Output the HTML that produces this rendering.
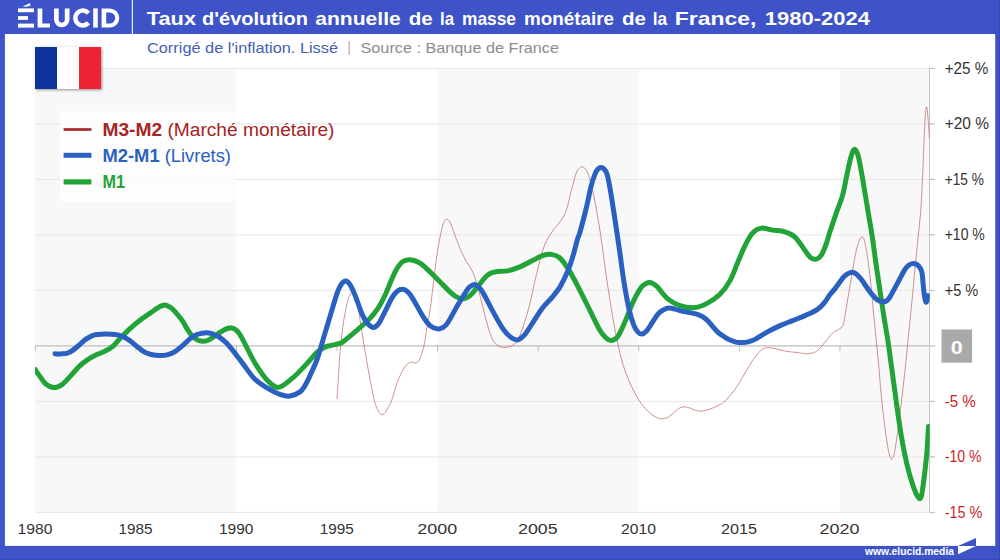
<!DOCTYPE html>
<html><head><meta charset="utf-8"><title>Elucid</title><style>html,body{margin:0;padding:0;background:#fff;}body{width:1000px;height:560px;overflow:hidden;font-family:"Liberation Sans",sans-serif;}svg{display:block;}text{font-family:"Liberation Sans",sans-serif;}</style></head><body>
<svg width="1000" height="560" viewBox="0 0 1000 560">
<defs><filter id="sh" x="-20%" y="-20%" width="150%" height="150%"><feGaussianBlur in="SourceAlpha" stdDeviation="1.4"/><feOffset dx="1.3" dy="1.3"/><feComponentTransfer><feFuncA type="linear" slope="0.42"/></feComponentTransfer><feMerge><feMergeNode/><feMergeNode in="SourceGraphic"/></feMerge></filter><clipPath id="cp"><rect x="35" y="60" width="894.8" height="460"/></clipPath></defs>
<rect x="0" y="0" width="1000" height="560" fill="#3d53c7"/>
<rect x="4.9" y="34" width="990.3" height="511.9" fill="#fff"/>
<rect x="35.30" y="68" width="201.15" height="444" fill="#f8f8f8"/>
<rect x="437.60" y="68" width="201.15" height="444" fill="#f8f8f8"/>
<rect x="839.90" y="68" width="89.71" height="444" fill="#f8f8f8"/>
<line x1="35" x2="935" y1="68.40" y2="68.40" stroke="#e7e7e7" stroke-width="1"/>
<line x1="35" x2="935" y1="123.90" y2="123.90" stroke="#e7e7e7" stroke-width="1"/>
<line x1="35" x2="935" y1="179.40" y2="179.40" stroke="#e7e7e7" stroke-width="1"/>
<line x1="35" x2="935" y1="234.90" y2="234.90" stroke="#e7e7e7" stroke-width="1"/>
<line x1="35" x2="935" y1="290.40" y2="290.40" stroke="#e7e7e7" stroke-width="1"/>
<line x1="35" x2="935" y1="401.40" y2="401.40" stroke="#e7e7e7" stroke-width="1"/>
<line x1="35" x2="935" y1="456.90" y2="456.90" stroke="#e7e7e7" stroke-width="1"/>
<line x1="35" x2="935" y1="512.40" y2="512.40" stroke="#e7e7e7" stroke-width="1"/>
<line x1="35" x2="935" y1="345.9" y2="345.9" stroke="#bdbdbd" stroke-width="1.2"/>
<line x1="35.30" x2="35.30" y1="345.9" y2="351.4" stroke="#bdbdbd" stroke-width="1"/>
<line x1="135.88" x2="135.88" y1="345.9" y2="351.4" stroke="#bdbdbd" stroke-width="1"/>
<line x1="236.45" x2="236.45" y1="345.9" y2="351.4" stroke="#bdbdbd" stroke-width="1"/>
<line x1="337.02" x2="337.02" y1="345.9" y2="351.4" stroke="#bdbdbd" stroke-width="1"/>
<line x1="437.60" x2="437.60" y1="345.9" y2="351.4" stroke="#bdbdbd" stroke-width="1"/>
<line x1="538.17" x2="538.17" y1="345.9" y2="351.4" stroke="#bdbdbd" stroke-width="1"/>
<line x1="638.75" x2="638.75" y1="345.9" y2="351.4" stroke="#bdbdbd" stroke-width="1"/>
<line x1="739.32" x2="739.32" y1="345.9" y2="351.4" stroke="#bdbdbd" stroke-width="1"/>
<line x1="839.90" x2="839.90" y1="345.9" y2="351.4" stroke="#bdbdbd" stroke-width="1"/>
<line x1="929.5" x2="929.5" y1="68" y2="512" stroke="#c6c6c6" stroke-width="1"/>
<line x1="929.5" x2="935" y1="68.40" y2="68.40" stroke="#bcbcbc" stroke-width="1"/>
<line x1="929.5" x2="935" y1="123.90" y2="123.90" stroke="#bcbcbc" stroke-width="1"/>
<line x1="929.5" x2="935" y1="179.40" y2="179.40" stroke="#bcbcbc" stroke-width="1"/>
<line x1="929.5" x2="935" y1="234.90" y2="234.90" stroke="#bcbcbc" stroke-width="1"/>
<line x1="929.5" x2="935" y1="290.40" y2="290.40" stroke="#bcbcbc" stroke-width="1"/>
<line x1="929.5" x2="935" y1="401.40" y2="401.40" stroke="#bcbcbc" stroke-width="1"/>
<line x1="929.5" x2="935" y1="456.90" y2="456.90" stroke="#bcbcbc" stroke-width="1"/>
<line x1="929.5" x2="935" y1="512.40" y2="512.40" stroke="#bcbcbc" stroke-width="1"/>
<rect x="60" y="111" width="176.2" height="91" fill="#fff" fill-opacity="0.75"/>
<path d="M337.00,398.60C337.20,395.60 337.70,388.18 338.20,380.60C338.70,373.02 339.07,363.10 340.00,353.10C340.93,343.10 342.29,329.85 343.75,320.60C345.21,311.35 347.29,302.27 348.75,297.60C350.21,292.93 351.46,292.93 352.50,292.60C353.54,292.27 354.17,293.77 355.00,295.60C355.83,297.43 356.25,296.93 357.50,303.60C358.75,310.27 360.83,325.27 362.50,335.60C364.17,345.93 365.62,355.18 367.50,365.60C369.38,376.02 372.33,391.38 373.75,398.10C375.17,404.82 375.29,403.88 376.00,405.90C376.71,407.92 377.33,408.97 378.00,410.20C378.67,411.43 379.33,412.55 380.00,413.30C380.67,414.05 381.33,414.60 382.00,414.70C382.67,414.80 383.33,414.48 384.00,413.90C384.67,413.32 385.33,412.28 386.00,411.20C386.67,410.12 387.10,409.07 388.00,407.40C388.90,405.73 389.88,405.28 391.40,401.20C392.92,397.12 395.18,388.10 397.10,382.90C399.02,377.70 401.10,373.22 402.90,370.00C404.70,366.78 406.48,364.92 407.90,363.60C409.32,362.28 410.10,362.20 411.40,362.10C412.70,362.00 414.38,363.35 415.70,363.00C417.02,362.65 418.10,362.17 419.30,360.00C420.50,357.83 421.95,353.33 422.90,350.00C423.85,346.67 424.23,344.40 425.00,340.00C425.77,335.60 426.67,328.50 427.50,323.60C428.33,318.70 429.17,316.10 430.00,310.60C430.83,305.10 431.67,297.37 432.50,290.60C433.33,283.83 434.17,276.58 435.00,270.00C435.83,263.42 436.67,256.52 437.50,251.10C438.33,245.68 439.25,241.28 440.00,237.50C440.75,233.72 441.38,230.92 442.00,228.40C442.62,225.88 443.17,223.83 443.75,222.40C444.33,220.97 444.98,220.35 445.50,219.80C446.02,219.25 446.40,219.08 446.90,219.10C447.40,219.12 447.77,218.92 448.50,219.90C449.23,220.88 449.96,221.85 451.25,225.00C452.54,228.15 454.58,234.42 456.25,238.80C457.92,243.18 459.58,247.55 461.25,251.30C462.92,255.05 464.62,258.42 466.25,261.30C467.88,264.18 469.54,265.80 471.00,268.60C472.46,271.40 473.50,273.60 475.00,278.10C476.50,282.60 478.33,289.35 480.00,295.60C481.67,301.85 483.33,309.35 485.00,315.60C486.67,321.85 488.33,328.52 490.00,333.10C491.67,337.68 492.92,340.73 495.00,343.10C497.08,345.48 499.58,346.93 502.50,347.35C505.42,347.77 509.79,347.14 512.50,345.60C515.21,344.06 516.67,342.27 518.75,338.10C520.83,333.93 523.12,326.43 525.00,320.60C526.88,314.77 528.33,309.77 530.00,303.10C531.67,296.43 533.33,287.68 535.00,280.60C536.67,273.52 538.33,266.68 540.00,260.60C541.67,254.52 542.92,249.02 545.00,244.10C547.08,239.18 550.00,234.81 552.50,231.10C555.00,227.39 557.71,225.27 560.00,221.85C562.29,218.43 564.38,215.81 566.25,210.60C568.12,205.39 569.58,196.85 571.25,190.60C572.92,184.35 574.88,176.85 576.25,173.10C577.62,169.35 578.46,169.14 579.50,168.10C580.54,167.06 581.50,166.68 582.50,166.85C583.50,167.02 584.46,167.64 585.50,169.10C586.54,170.56 587.38,171.18 588.75,175.60C590.12,180.02 592.08,187.68 593.75,195.60C595.42,203.52 597.29,214.35 598.75,223.10C600.21,231.85 601.25,239.35 602.50,248.10C603.75,256.85 605.00,266.85 606.25,275.60C607.50,284.35 608.75,292.68 610.00,300.60C611.25,308.52 612.50,316.18 613.75,323.10C615.00,330.02 616.04,335.43 617.50,342.10C618.96,348.77 620.42,356.27 622.50,363.10C624.58,369.93 627.08,376.64 630.00,383.10C632.92,389.56 636.67,396.85 640.00,401.85C643.33,406.85 647.33,410.56 650.00,413.10C652.67,415.64 654.12,416.14 656.00,417.10C657.88,418.06 659.12,418.89 661.25,418.85C663.38,418.81 666.04,418.43 668.75,416.85C671.46,415.27 675.46,410.89 677.50,409.35C679.54,407.81 679.75,408.02 681.00,407.60C682.25,407.18 683.50,406.77 685.00,406.85C686.50,406.93 688.33,407.56 690.00,408.10C691.67,408.64 692.92,409.60 695.00,410.10C697.08,410.60 699.58,411.43 702.50,411.10C705.42,410.77 709.17,409.43 712.50,408.10C715.83,406.77 719.58,405.18 722.50,403.10C725.42,401.02 727.50,398.52 730.00,395.60C732.50,392.68 735.00,389.35 737.50,385.60C740.00,381.85 742.50,377.27 745.00,373.10C747.50,368.93 750.00,364.27 752.50,360.60C755.00,356.93 758.08,353.10 760.00,351.10C761.92,349.10 762.75,349.18 764.00,348.60C765.25,348.02 765.67,347.60 767.50,347.60C769.33,347.60 772.08,348.02 775.00,348.60C777.92,349.18 781.25,350.43 785.00,351.10C788.75,351.77 794.17,352.18 797.50,352.60C800.83,353.02 802.92,353.43 805.00,353.60C807.08,353.77 807.92,354.10 810.00,353.60C812.08,353.10 815.00,352.52 817.50,350.60C820.00,348.68 822.50,345.02 825.00,342.10C827.50,339.18 830.21,335.23 832.50,333.10C834.79,330.98 837.17,330.35 838.75,329.35C840.33,328.35 841.21,328.06 842.00,327.10C842.79,326.14 843.00,325.52 843.50,323.60C844.00,321.68 844.12,320.68 845.00,315.60C845.88,310.52 847.50,300.60 848.75,293.10C850.00,285.60 851.25,277.68 852.50,270.60C853.75,263.52 855.08,255.68 856.25,250.60C857.42,245.52 858.46,242.39 859.50,240.10C860.54,237.81 861.58,236.35 862.50,236.85C863.42,237.35 864.08,239.14 865.00,243.10C865.92,247.06 866.96,253.10 868.00,260.60C869.04,268.10 870.29,278.93 871.25,288.10C872.21,297.27 872.92,306.85 873.75,315.60C874.58,324.35 875.42,332.27 876.25,340.60C877.08,348.93 877.92,356.43 878.75,365.60C879.58,374.77 880.21,385.18 881.25,395.60C882.29,406.02 883.88,419.35 885.00,428.10C886.12,436.85 887.20,443.43 888.00,448.10C888.80,452.77 889.26,454.27 889.80,456.10C890.34,457.93 890.75,458.85 891.25,459.10C891.75,459.35 892.26,458.68 892.80,457.60C893.34,456.52 893.72,456.68 894.50,452.60C895.28,448.52 896.38,441.35 897.50,433.10C898.62,424.85 900.00,413.52 901.25,403.10C902.50,392.68 903.88,381.02 905.00,370.60C906.12,360.18 907.17,348.93 908.00,340.60C908.83,332.27 909.25,328.10 910.00,320.60C910.75,313.10 911.67,304.27 912.50,295.60C913.33,286.93 914.17,277.27 915.00,268.60C915.83,259.93 916.67,251.93 917.50,243.60C918.33,235.27 919.38,225.27 920.00,218.60C920.62,211.93 920.83,210.35 921.25,203.60C921.67,196.85 922.08,187.35 922.50,178.10C922.92,168.85 923.33,157.68 923.75,148.10C924.17,138.52 924.66,126.93 925.00,120.60C925.34,114.27 925.55,112.39 925.80,110.10C926.05,107.81 926.27,106.93 926.50,106.85C926.73,106.77 926.95,107.72 927.20,109.60C927.45,111.47 927.62,113.35 928.00,118.10C928.38,122.85 929.25,134.77 929.50,138.10" fill="none" stroke="#b04a42" stroke-width="0.6" clip-path="url(#cp)" stroke-linejoin="round" stroke-linecap="round"/>
<path d="M35.00,369.35C35.83,370.56 38.17,374.14 40.00,376.60C41.83,379.06 43.71,382.27 46.00,384.10C48.29,385.93 51.08,387.52 53.75,387.60C56.42,387.68 59.29,386.43 62.00,384.60C64.71,382.77 67.00,379.77 70.00,376.60C73.00,373.43 76.67,368.68 80.00,365.60C83.33,362.52 87.08,359.98 90.00,358.10C92.92,356.23 95.00,355.52 97.50,354.35C100.00,353.18 102.50,352.39 105.00,351.10C107.50,349.81 110.00,348.68 112.50,346.60C115.00,344.52 117.08,341.60 120.00,338.60C122.92,335.60 126.67,331.67 130.00,328.60C133.33,325.53 137.08,322.48 140.00,320.20C142.92,317.92 145.33,316.40 147.50,314.90C149.67,313.40 151.42,312.28 153.00,311.20C154.58,310.12 155.75,309.22 157.00,308.40C158.25,307.58 159.50,306.82 160.50,306.30C161.50,305.78 162.28,305.52 163.00,305.30C163.72,305.08 164.22,304.98 164.80,305.00C165.38,305.02 165.88,305.17 166.50,305.40C167.12,305.63 167.87,306.08 168.50,306.40C169.13,306.72 169.43,306.67 170.30,307.30C171.17,307.93 172.47,308.95 173.70,310.20C174.93,311.45 176.18,312.93 177.70,314.80C179.22,316.67 181.25,319.10 182.80,321.40C184.35,323.70 185.59,326.37 187.00,328.60C188.41,330.83 189.75,333.03 191.25,334.80C192.75,336.57 194.12,338.12 196.00,339.20C197.88,340.28 200.50,341.13 202.50,341.30C204.50,341.47 206.08,340.98 208.00,340.20C209.92,339.42 212.00,337.90 214.00,336.60C216.00,335.30 218.17,333.60 220.00,332.40C221.83,331.20 223.58,330.10 225.00,329.40C226.42,328.70 227.42,328.45 228.50,328.20C229.58,327.95 230.50,327.80 231.50,327.90C232.50,328.00 233.42,328.13 234.50,328.80C235.58,329.47 236.67,330.18 238.00,331.90C239.33,333.62 239.67,333.90 242.50,339.10C245.33,344.30 250.83,356.18 255.00,363.10C259.17,370.02 263.54,376.56 267.50,380.60C271.46,384.64 274.58,387.77 278.75,387.35C282.92,386.93 288.12,381.73 292.50,378.10C296.88,374.48 300.83,369.98 305.00,365.60C309.17,361.23 314.17,354.93 317.50,351.85C320.83,348.77 322.92,348.14 325.00,347.10C327.08,346.06 327.50,346.22 330.00,345.60C332.50,344.98 337.50,344.30 340.00,343.40C342.50,342.50 343.17,341.53 345.00,340.20C346.83,338.87 348.92,337.13 351.00,335.40C353.08,333.67 355.33,331.67 357.50,329.80C359.67,327.93 361.92,326.10 364.00,324.20C366.08,322.30 368.17,320.37 370.00,318.40C371.83,316.43 373.50,314.33 375.00,312.40C376.50,310.47 377.67,308.97 379.00,306.80C380.33,304.63 381.75,301.88 383.00,299.40C384.25,296.92 385.17,294.95 386.50,291.90C387.83,288.85 389.42,284.72 391.00,281.10C392.58,277.48 394.08,273.41 396.00,270.20C397.92,266.99 400.17,263.58 402.50,261.85C404.83,260.12 407.08,259.64 410.00,259.85C412.92,260.06 416.67,261.10 420.00,263.10C423.33,265.10 426.67,268.73 430.00,271.85C433.33,274.98 436.67,278.52 440.00,281.85C443.33,285.18 447.33,289.39 450.00,291.85C452.67,294.31 453.92,295.43 456.00,296.60C458.08,297.77 460.50,298.77 462.50,298.85C464.50,298.93 466.33,298.06 468.00,297.10C469.67,296.14 470.92,294.81 472.50,293.10C474.08,291.39 475.42,289.43 477.50,286.85C479.58,284.27 482.92,279.84 485.00,277.60C487.08,275.36 487.92,274.42 490.00,273.40C492.08,272.38 494.58,271.92 497.50,271.50C500.42,271.08 503.75,271.68 507.50,270.90C511.25,270.13 515.83,268.57 520.00,266.85C524.17,265.13 528.75,262.48 532.50,260.60C536.25,258.73 539.38,256.64 542.50,255.60C545.62,254.56 548.33,253.93 551.25,254.35C554.17,254.77 556.88,255.18 560.00,258.10C563.12,261.02 566.67,266.43 570.00,271.85C573.33,277.27 576.67,284.14 580.00,290.60C583.33,297.06 586.67,303.93 590.00,310.60C593.33,317.27 597.29,326.02 600.00,330.60C602.71,335.18 604.38,336.43 606.25,338.10C608.12,339.77 609.38,340.81 611.25,340.60C613.12,340.39 615.21,339.98 617.50,336.85C619.79,333.73 622.50,327.48 625.00,321.85C627.50,316.23 630.00,308.56 632.50,303.10C635.00,297.64 638.00,292.22 640.00,289.10C642.00,285.98 643.04,285.48 644.50,284.40C645.96,283.32 647.33,282.73 648.75,282.60C650.17,282.47 651.54,282.85 653.00,283.60C654.46,284.35 655.08,284.60 657.50,287.10C659.92,289.60 663.75,295.52 667.50,298.60C671.25,301.68 675.42,304.10 680.00,305.60C684.58,307.10 690.42,308.02 695.00,307.60C699.58,307.18 703.33,305.31 707.50,303.10C711.67,300.89 716.25,298.10 720.00,294.35C723.75,290.60 727.08,285.81 730.00,280.60C732.92,275.39 735.00,268.93 737.50,263.10C740.00,257.27 742.50,250.60 745.00,245.60C747.50,240.60 749.79,236.02 752.50,233.10C755.21,230.18 757.92,228.60 761.25,228.10C764.58,227.60 768.54,229.47 772.50,230.10C776.46,230.72 781.25,230.68 785.00,231.85C788.75,233.02 791.67,234.01 795.00,237.10C798.33,240.19 802.50,247.07 805.00,250.40C807.50,253.73 808.33,255.61 810.00,257.10C811.67,258.59 813.50,259.27 815.00,259.35C816.50,259.43 817.75,258.64 819.00,257.60C820.25,256.56 821.17,255.77 822.50,253.10C823.83,250.43 825.75,245.18 827.00,241.60C828.25,238.02 828.46,236.35 830.00,231.60C831.54,226.85 834.17,219.10 836.25,213.10C838.33,207.10 840.83,201.43 842.50,195.60C844.17,189.77 845.00,183.93 846.25,178.10C847.50,172.27 848.96,164.93 850.00,160.60C851.04,156.27 851.75,153.97 852.50,152.10C853.25,150.22 853.83,149.43 854.50,149.35C855.17,149.27 855.79,150.14 856.50,151.60C857.21,153.06 857.75,153.68 858.75,158.10C859.75,162.52 861.25,171.02 862.50,178.10C863.75,185.18 865.00,193.10 866.25,200.60C867.50,208.10 868.96,216.85 870.00,223.10C871.04,229.35 871.46,231.02 872.50,238.10C873.54,245.18 875.00,256.85 876.25,265.60C877.50,274.35 878.75,282.27 880.00,290.60C881.25,298.93 882.50,307.68 883.75,315.60C885.00,323.52 886.46,331.43 887.50,338.10C888.54,344.77 888.96,348.10 890.00,355.60C891.04,363.10 892.50,373.93 893.75,383.10C895.00,392.27 896.25,401.85 897.50,410.60C898.75,419.35 900.00,428.10 901.25,435.60C902.50,443.10 903.88,450.10 905.00,455.60C906.12,461.10 906.83,464.10 908.00,468.60C909.17,473.10 910.67,478.43 912.00,482.60C913.33,486.77 914.92,491.10 916.00,493.60C917.08,496.10 917.83,496.77 918.50,497.60C919.17,498.43 919.53,498.77 920.00,498.60C920.47,498.43 920.90,497.93 921.30,496.60C921.70,495.27 921.78,494.93 922.40,490.60C923.02,486.27 924.23,477.27 925.00,470.60C925.77,463.93 926.42,457.93 927.00,450.60C927.58,443.27 928.25,430.60 928.50,426.60" fill="none" stroke="#22a338" stroke-width="5" clip-path="url(#cp)" stroke-linejoin="round" stroke-linecap="round"/>
<path d="M55.00,353.85C56.00,353.86 58.92,354.03 61.00,353.90C63.08,353.78 65.50,353.73 67.50,353.10C69.50,352.47 70.92,351.56 73.00,350.10C75.08,348.64 77.83,346.18 80.00,344.35C82.17,342.52 83.92,340.56 86.00,339.10C88.08,337.64 90.50,336.37 92.50,335.60C94.50,334.83 95.92,334.75 98.00,334.50C100.08,334.25 102.83,334.15 105.00,334.10C107.17,334.05 108.92,334.07 111.00,334.20C113.08,334.33 115.33,334.43 117.50,334.90C119.67,335.37 121.92,336.02 124.00,337.00C126.08,337.98 126.92,338.50 130.00,340.80C133.08,343.10 139.00,348.52 142.50,350.80C146.00,353.08 148.08,353.70 151.00,354.50C153.92,355.30 157.17,355.58 160.00,355.60C162.83,355.62 165.50,355.27 168.00,354.60C170.50,353.93 172.67,353.02 175.00,351.60C177.33,350.18 179.50,348.23 182.00,346.10C184.50,343.97 187.50,340.72 190.00,338.80C192.50,336.88 195.00,335.53 197.00,334.60C199.00,333.67 200.42,333.52 202.00,333.20C203.58,332.88 205.00,332.67 206.50,332.70C208.00,332.73 209.42,332.95 211.00,333.40C212.58,333.85 214.50,334.70 216.00,335.40C217.50,336.10 218.33,336.40 220.00,337.60C221.67,338.80 223.92,340.52 226.00,342.60C228.08,344.68 229.75,346.68 232.50,350.10C235.25,353.52 238.75,358.23 242.50,363.10C246.25,367.98 250.83,375.18 255.00,379.35C259.17,383.52 263.33,385.60 267.50,388.10C271.67,390.60 276.25,393.02 280.00,394.35C283.75,395.68 286.67,396.52 290.00,396.10C293.33,395.68 297.50,393.60 300.00,391.85C302.50,390.10 303.33,388.31 305.00,385.60C306.67,382.89 307.92,380.18 310.00,375.60C312.08,371.02 315.00,365.18 317.50,358.10C320.00,351.02 322.50,341.43 325.00,333.10C327.50,324.77 330.42,314.93 332.50,308.10C334.58,301.27 336.00,296.10 337.50,292.10C339.00,288.10 340.13,285.93 341.50,284.10C342.87,282.27 344.28,281.02 345.70,281.10C347.12,281.18 348.45,282.27 350.00,284.60C351.55,286.93 352.92,290.02 355.00,295.10C357.08,300.18 360.33,310.30 362.50,315.10C364.67,319.90 366.20,321.83 368.00,323.90C369.80,325.97 371.55,327.50 373.30,327.50C375.05,327.50 376.88,325.88 378.50,323.90C380.12,321.92 380.67,320.11 383.00,315.60C385.33,311.09 390.08,300.93 392.50,296.85C394.92,292.77 395.83,292.35 397.50,291.10C399.17,289.85 400.83,289.27 402.50,289.35C404.17,289.43 405.83,290.14 407.50,291.60C409.17,293.06 410.00,294.10 412.50,298.10C415.00,302.10 419.58,311.02 422.50,315.60C425.42,320.18 427.50,323.39 430.00,325.60C432.50,327.81 435.42,328.52 437.50,328.85C439.58,329.18 440.83,328.56 442.50,327.60C444.17,326.64 445.00,326.77 447.50,323.10C450.00,319.43 454.17,311.23 457.50,305.60C460.83,299.98 465.25,292.60 467.50,289.35C469.75,286.10 469.83,286.89 471.00,286.10C472.17,285.31 473.33,284.52 474.50,284.60C475.67,284.68 476.67,285.39 478.00,286.60C479.33,287.81 480.08,287.85 482.50,291.85C484.92,295.85 489.17,304.56 492.50,310.60C495.83,316.64 499.58,323.77 502.50,328.10C505.42,332.43 507.50,334.64 510.00,336.60C512.50,338.56 515.00,340.23 517.50,339.85C520.00,339.48 522.50,337.14 525.00,334.35C527.50,331.56 529.58,327.48 532.50,323.10C535.42,318.73 539.17,312.48 542.50,308.10C545.83,303.73 549.58,300.39 552.50,296.85C555.42,293.31 557.50,291.02 560.00,286.85C562.50,282.68 565.42,276.73 567.50,271.85C569.58,266.98 570.83,263.06 572.50,257.60C574.17,252.14 576.25,243.35 577.50,239.10C578.75,234.85 578.54,237.27 580.00,232.10C581.46,226.93 584.38,215.85 586.25,208.10C588.12,200.35 589.79,191.27 591.25,185.60C592.71,179.93 593.88,176.85 595.00,174.10C596.12,171.35 596.96,170.18 598.00,169.10C599.04,168.02 600.17,167.52 601.25,167.60C602.33,167.68 603.46,168.27 604.50,169.60C605.54,170.93 606.38,171.27 607.50,175.60C608.62,179.93 609.79,186.85 611.25,195.60C612.71,204.35 614.79,218.43 616.25,228.10C617.71,237.77 618.75,244.85 620.00,253.60C621.25,262.35 622.29,271.52 623.75,280.60C625.21,289.68 627.08,300.68 628.75,308.10C630.42,315.52 632.21,321.10 633.75,325.10C635.29,329.10 636.62,330.60 638.00,332.10C639.38,333.60 640.67,334.18 642.00,334.10C643.33,334.02 644.67,332.93 646.00,331.60C647.33,330.27 648.00,329.02 650.00,326.10C652.00,323.18 655.67,316.85 658.00,314.10C660.33,311.35 662.21,310.60 664.00,309.60C665.79,308.60 666.92,308.18 668.75,308.10C670.58,308.02 672.71,308.56 675.00,309.10C677.29,309.64 680.00,310.77 682.50,311.35C685.00,311.93 687.50,312.10 690.00,312.60C692.50,313.10 695.42,313.68 697.50,314.35C699.58,315.02 700.83,315.56 702.50,316.60C704.17,317.64 705.00,318.06 707.50,320.60C710.00,323.14 714.75,329.18 717.50,331.85C720.25,334.52 721.92,335.23 724.00,336.60C726.08,337.98 728.00,339.18 730.00,340.10C732.00,341.02 733.92,341.68 736.00,342.10C738.08,342.52 740.33,342.68 742.50,342.60C744.67,342.52 746.92,342.14 749.00,341.60C751.08,341.06 751.92,340.98 755.00,339.35C758.08,337.73 763.33,334.14 767.50,331.85C771.67,329.56 775.83,327.48 780.00,325.60C784.17,323.73 788.33,322.27 792.50,320.60C796.67,318.93 800.83,317.48 805.00,315.60C809.17,313.73 814.17,311.64 817.50,309.35C820.83,307.06 822.92,304.31 825.00,301.85C827.08,299.39 828.33,296.81 830.00,294.60C831.67,292.39 832.71,291.56 835.00,288.60C837.29,285.64 841.58,279.35 843.75,276.85C845.92,274.35 846.54,274.35 848.00,273.60C849.46,272.85 851.00,272.18 852.50,272.35C854.00,272.52 855.54,273.43 857.00,274.60C858.46,275.77 859.08,276.48 861.25,279.35C863.42,282.23 867.29,288.39 870.00,291.85C872.71,295.31 875.33,298.43 877.50,300.10C879.67,301.77 881.42,301.77 883.00,301.85C884.58,301.93 885.83,301.43 887.00,300.60C888.17,299.77 888.25,299.77 890.00,296.85C891.75,293.93 895.00,287.68 897.50,283.10C900.00,278.52 903.08,272.35 905.00,269.35C906.92,266.35 907.75,266.06 909.00,265.10C910.25,264.14 911.33,263.77 912.50,263.60C913.67,263.43 914.96,263.68 916.00,264.10C917.04,264.52 917.92,265.18 918.75,266.10C919.58,267.02 920.41,268.18 921.00,269.60C921.59,271.02 921.92,271.93 922.30,274.60C922.67,277.27 922.88,282.02 923.25,285.60C923.62,289.18 924.04,293.35 924.50,296.10C924.96,298.85 925.53,301.52 926.00,302.10C926.47,302.68 926.97,300.68 927.30,299.60C927.63,298.52 927.88,296.27 928.00,295.60" fill="none" stroke="#2a60bf" stroke-width="5" clip-path="url(#cp)" stroke-linejoin="round" stroke-linecap="round"/>
<line x1="63.6" x2="91.4" y1="129.5" y2="129.5" stroke="#a82828" stroke-width="2.7"/>
<line x1="63.6" x2="91.4" y1="155.3" y2="155.3" stroke="#2a60bf" stroke-width="5"/>
<line x1="63.6" x2="91.4" y1="181.9" y2="181.9" stroke="#22a338" stroke-width="5.2"/>
<text x="102.5" y="135.6" font-size="17.6" fill="#a52424" textLength="232" lengthAdjust="spacingAndGlyphs"><tspan font-weight="bold">M3-M2</tspan> (Marché monétaire)</text>
<text x="102.5" y="161.8" font-size="17.6" fill="#2a60bf" textLength="128.5" lengthAdjust="spacingAndGlyphs"><tspan font-weight="bold">M2-M1</tspan> (Livrets)</text>
<text x="102.5" y="188" font-size="17.6" fill="#22a338" font-weight="bold" textLength="22.5" lengthAdjust="spacingAndGlyphs">M1</text>
<text x="944.7" y="73.70" font-size="15.6" fill="#333" textLength="43.6" lengthAdjust="spacingAndGlyphs">+25 %</text>
<text x="944.7" y="129.20" font-size="15.6" fill="#333" textLength="44.3" lengthAdjust="spacingAndGlyphs">+20 %</text>
<text x="944.7" y="184.70" font-size="15.6" fill="#333" textLength="39.3" lengthAdjust="spacingAndGlyphs">+15 %</text>
<text x="944.7" y="240.20" font-size="15.6" fill="#333" textLength="40.1" lengthAdjust="spacingAndGlyphs">+10 %</text>
<text x="944.7" y="295.70" font-size="15.6" fill="#333" textLength="33.6" lengthAdjust="spacingAndGlyphs">+5 %</text>
<text x="944.7" y="406.70" font-size="15.6" fill="#cc2424" textLength="31.1" lengthAdjust="spacingAndGlyphs">-5 %</text>
<text x="944.7" y="462.20" font-size="15.6" fill="#cc2424" textLength="36.8" lengthAdjust="spacingAndGlyphs">-10 %</text>
<text x="944.7" y="517.70" font-size="15.6" fill="#cc2424" textLength="37.6" lengthAdjust="spacingAndGlyphs">-15 %</text>
<rect x="941.5" y="329.5" width="30.6" height="33.2" fill="#a9a9a9"/>
<text x="950.8" y="353.8" font-size="18.2" font-weight="bold" fill="#fff" textLength="12" lengthAdjust="spacingAndGlyphs">0</text>
<text x="17.50" y="534" font-size="15.4" fill="#333" textLength="35.0" lengthAdjust="spacingAndGlyphs">1980</text>
<text x="118.57" y="534" font-size="15.4" fill="#333" textLength="34.0" lengthAdjust="spacingAndGlyphs">1985</text>
<text x="218.90" y="534" font-size="15.4" fill="#333" textLength="34.5" lengthAdjust="spacingAndGlyphs">1990</text>
<text x="319.72" y="534" font-size="15.4" fill="#333" textLength="34.0" lengthAdjust="spacingAndGlyphs">1995</text>
<text x="417.30" y="534" font-size="15.4" fill="#333" textLength="40.0" lengthAdjust="spacingAndGlyphs">2000</text>
<text x="518.12" y="534" font-size="15.4" fill="#333" textLength="39.5" lengthAdjust="spacingAndGlyphs">2005</text>
<text x="620.95" y="534" font-size="15.4" fill="#333" textLength="35.0" lengthAdjust="spacingAndGlyphs">2010</text>
<text x="721.02" y="534" font-size="15.4" fill="#333" textLength="36.0" lengthAdjust="spacingAndGlyphs">2015</text>
<text x="819.60" y="534" font-size="15.4" fill="#333" textLength="40.0" lengthAdjust="spacingAndGlyphs">2020</text>
<rect x="131.8" y="0" width="1.2" height="34" fill="#fff" fill-opacity="0.9"/>
<text x="146.8" y="24.8" font-size="17.8" font-weight="bold" fill="#fff" textLength="49.2" lengthAdjust="spacingAndGlyphs">Taux</text>
<text x="202.0" y="24.8" font-size="17.8" font-weight="bold" fill="#fff" textLength="106.0" lengthAdjust="spacingAndGlyphs">d'évolution</text>
<text x="315.2" y="24.8" font-size="17.8" font-weight="bold" fill="#fff" textLength="85.6" lengthAdjust="spacingAndGlyphs">annuelle</text>
<text x="408.8" y="24.8" font-size="17.8" font-weight="bold" fill="#fff" textLength="24.0" lengthAdjust="spacingAndGlyphs">de</text>
<text x="440.0" y="24.8" font-size="17.8" font-weight="bold" fill="#fff" textLength="14.0" lengthAdjust="spacingAndGlyphs">la</text>
<text x="462.0" y="24.8" font-size="17.8" font-weight="bold" fill="#fff" textLength="54.0" lengthAdjust="spacingAndGlyphs">masse</text>
<text x="524.0" y="24.8" font-size="17.8" font-weight="bold" fill="#fff" textLength="90.0" lengthAdjust="spacingAndGlyphs">monétaire</text>
<text x="622.0" y="24.8" font-size="17.8" font-weight="bold" fill="#fff" textLength="24.0" lengthAdjust="spacingAndGlyphs">de</text>
<text x="652.8" y="24.8" font-size="17.8" font-weight="bold" fill="#fff" textLength="14.4" lengthAdjust="spacingAndGlyphs">la</text>
<text x="674.8" y="24.8" font-size="17.8" font-weight="bold" fill="#fff" textLength="81.5" lengthAdjust="spacingAndGlyphs">France,</text>
<text x="764.8" y="24.8" font-size="17.8" font-weight="bold" fill="#fff" textLength="105.2" lengthAdjust="spacingAndGlyphs">1980-2024</text>
<g fill="#fff"><rect x="18" y="8.4" width="16" height="3.8"/><rect x="18" y="16.1" width="10" height="3.8"/><rect x="18" y="23.6" width="16" height="4"/><polygon points="22.6,6.6 30.1,3 30.3,5.7 26,6.8"/><path d="M37.6,8.4h4.7v15.2h7.7v4h-12.4z"/><path d="M54,8.4h4.7v11.2a3.05,3.05 0 0 0 6.1,0v-11.2h4.7v11.2a7.75,7.75 0 0 1 -15.5,0z"/><rect x="93.2" y="8.4" width="4.6" height="19.2"/><path fill-rule="evenodd" d="M101.6,8.4h8.1a9.6,9.6 0 0 1 0,19.2h-8.1z M106.2,12.5v11h3.5a5.5,5.5 0 0 0 0,-11z"/></g>
<path d="M88.4,13.3A7.4,7.4 0 1 0 88.4,22.7" fill="none" stroke="#fff" stroke-width="4.5"/>
<text x="147" y="52.8" font-size="15" fill="#4560b4" textLength="191" lengthAdjust="spacingAndGlyphs">Corrigé de l'inflation. Lissé</text>
<rect x="348.6" y="41" width="1" height="14" fill="#9a9a9a"/>
<text x="360.5" y="52.8" font-size="15" fill="#8c8c8c" textLength="198.5" lengthAdjust="spacingAndGlyphs">Source : Banque de France</text>
<g filter="url(#sh)"><rect x="35" y="47" width="22" height="42" fill="#10309a"/><rect x="57" y="47" width="22" height="42" fill="#fff"/><rect x="79" y="47" width="22" height="42" fill="#ec2436"/></g>
<polygon points="958,546 976,538 976,546" fill="#3d53c7"/>
<polygon points="958,546 976,546 958,554.3" fill="#fff"/>
<text x="865" y="554.5" font-size="10.5" font-weight="bold" fill="#fff" textLength="89" lengthAdjust="spacingAndGlyphs">www.elucid.media</text>
<rect x="999" y="0" width="1" height="560" fill="#3446a6" fill-opacity="0.7"/><rect x="0" y="559.2" width="1000" height="0.8" fill="#3446a6" fill-opacity="0.7"/>
</svg></body></html>
